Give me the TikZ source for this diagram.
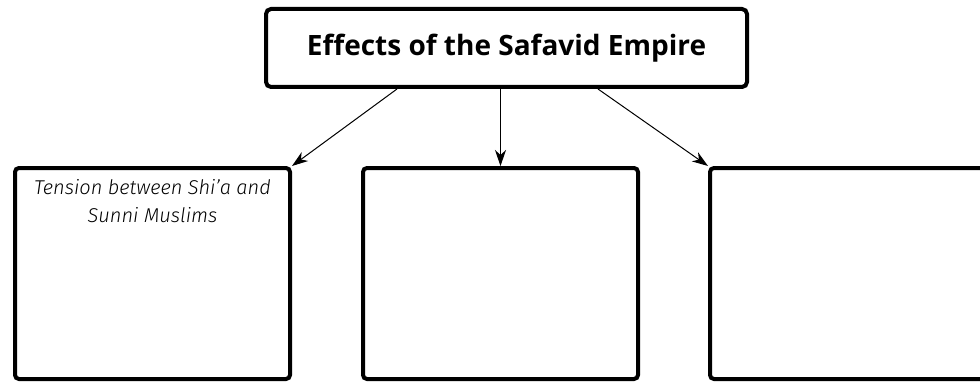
\documentclass[tikz,border=0pt]{standalone}
\usepackage{fontspec}
\setsansfont{Open Sans}
\newfontfamily\handfont{Fira Sans Light Italic}
\usetikzlibrary{positioning, arrows.meta}
\tikzset{
  >={Stealth[length=16pt, width=11pt, inset=5pt]}, % sharp arrow heads
  titlebox/.style={draw, line width=4pt, rounded corners=5pt,
    minimum width=481pt, minimum height=78pt,
    font=\sffamily\bfseries\fontsize{28}{32}\selectfont},
  effectbox/.style={draw, line width=4pt, rounded corners=4pt,
    minimum width=275pt, minimum height=211pt}, % the three empty boxes
  handtext/.style={align=center, font=\handfont\fontsize{20}{28}\selectfont},
  link/.style={->, line width=1pt},
}

\begin{document}
\begin{tikzpicture}[x=1pt, y=1pt]
  \useasboundingbox (0,0) rectangle (980,381);

  \node[titlebox] (title) at (506.5,333) {Effects of the Safavid Empire};

  \node[effectbox, below=77pt of title, xshift=-6pt] (mid) {};
  \node[effectbox, left=69pt of mid] (left) {};
  \node[effectbox, right=68pt of mid] (right) {};

  \node[handtext, below=10pt of left.north] (tension) {Tension between Shi’a and\\Sunni Muslims};

  \draw[link] ([xshift=-109.5pt]title.south) -- (left.north east);
  \draw[link] (mid.north |- title.south) -- (mid.north);
  \draw[link] ([xshift=91.5pt]title.south) -- (right.north west);

\end{tikzpicture}
\end{document}
